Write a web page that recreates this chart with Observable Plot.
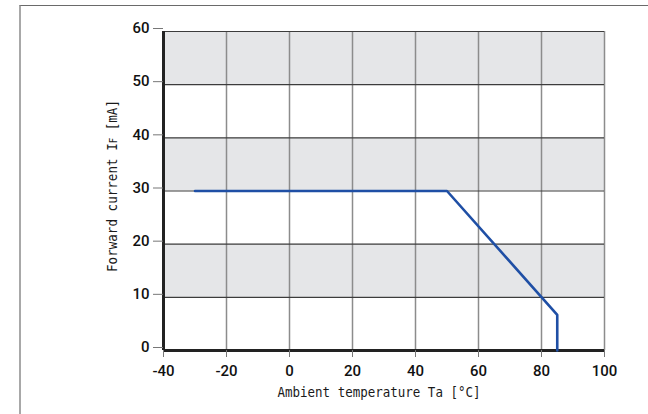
<!DOCTYPE html>
<html>
<head>
<meta charset="utf-8">
<script src="https://cdn.jsdelivr.net/npm/d3@7"></script>
<script src="https://cdn.jsdelivr.net/npm/@observablehq/plot@0.6"></script>
<style>
  html, body { margin: 0; padding: 0; background: #fff; }
  #wrap { position: relative; width: 648px; height: 414px; overflow: hidden; }
  #frame { position: absolute; left: 19px; top: 5px; width: 700px; height: 500px;
           border-top: 1.5px solid #6a6a6a; border-left: 2px solid #a8a8a8; }
  #chart { position: absolute; left: 0; top: 0; }
</style>
</head>
<body>
<div id="wrap"><div id="frame"></div><div id="chart"></div></div>
<script>
// Data
const xTicks = [-40, -20, 0, 20, 40, 60, 80, 100];
const yTicks = [0, 10, 20, 30, 40, 50, 60];
const shadedBands = [[10, 20], [30, 40], [50, 60]];
const tempC = [-30, 50, 85, 85];
const currentMA = [30, 30, 6.7, 0];
const xTitle = "Ambient temperature Ta [°C]";

const curve = tempC.map((t, i) => ({t, i: currentMA[i]}));
const xMin = xTicks[0], xMax = xTicks[xTicks.length - 1];

const tickFont = "Roboto, 'Liberation Sans', Arial, sans-serif";
const titleFont = "'DejaVu Sans Mono', monospace";

const chart = Plot.plot({
  width: 648,
  height: 414,
  marginLeft: 163,
  marginRight: 44,
  marginTop: 31,
  marginBottom: 64,
  x: {domain: [xMin, xMax]},
  y: {domain: [0, 60]},
  style: {background: "transparent", color: "#1a1a1a"},
  marks: [
    Plot.rect(shadedBands, {x1: xMin, x2: xMax, y1: d => d[0], y2: d => d[1], fill: "#e5e6e8"}),
    Plot.gridX(xTicks, {stroke: "#8c8c8c", strokeOpacity: 1, strokeWidth: 1.5}),
    Plot.gridY(yTicks, {stroke: "#3c3c3c", strokeOpacity: 1, strokeWidth: 1.1}),
    Plot.ruleX([xMin], {stroke: "#222", strokeWidth: 3}),
    Plot.ruleY([0], {stroke: "#222", strokeWidth: 3}),
    Plot.line(curve, {x: "t", y: "i", stroke: "#1f4fa5", strokeWidth: 2.6}),
    Plot.axisX(xTicks, {tickSize: 7, tickPadding: 8, fontSize: 15, fontWeight: 500, fontFamily: tickFont, label: null, stroke: "#777", tickFormat: d => String(d), fill: "#111"}),
    Plot.axisY(yTicks, {tickSize: 10, tickPadding: 4, fontSize: 15, fontWeight: 500, fontFamily: tickFont, label: null, dy: -3, stroke: "#777", tickFormat: d => String(d), fill: "#111"})
  ]
});
document.getElementById("chart").appendChild(chart);

const svg = d3.select(chart);
svg.append("text")
  .attr("x", 379).attr("y", 397)
  .attr("text-anchor", "middle")
  .attr("font-family", titleFont).attr("font-size", 14)
  .attr("textLength", 203).attr("lengthAdjust", "spacingAndGlyphs")
  .attr("fill", "#1a1a1a")
  .text(xTitle);

const yt = svg.append("text")
  .attr("transform", "translate(117,186) rotate(-90)")
  .attr("text-anchor", "middle")
  .attr("font-family", titleFont).attr("font-size", 14)
  .attr("textLength", 172).attr("lengthAdjust", "spacingAndGlyphs")
  .attr("fill", "#1a1a1a");
yt.append("tspan").text("Forward current I");
yt.append("tspan").attr("font-size", 10).text("F");
yt.append("tspan").text(" [mA]");
</script>
</body>
</html>
